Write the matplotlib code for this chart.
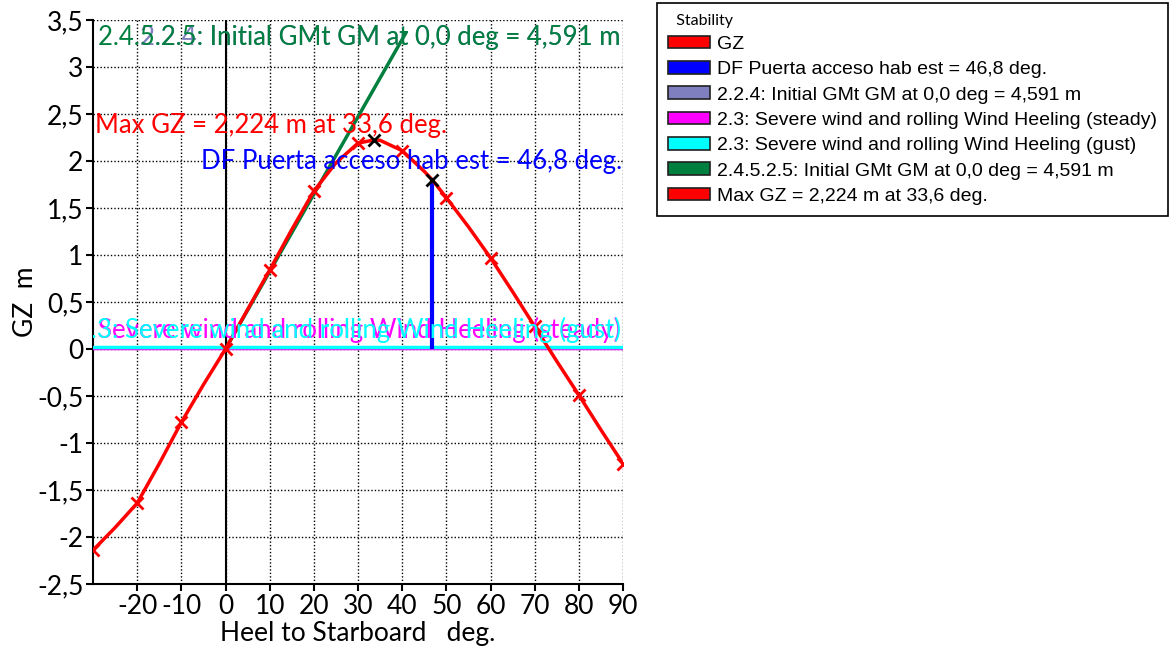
import matplotlib.pyplot as plt
from matplotlib.patches import Patch

# GZ curve (heel deg, GZ m)
heel = [-30, -25, -20, -15, -10, -5, 0, 5, 10, 15, 20, 25, 30, 33.6, 35, 40,
        45, 46.8, 50, 55, 60, 65, 70, 75, 80, 85, 90]
gz = [-2.14, -1.90, -1.64, -1.22, -0.78, -0.38, 0.0, 0.42, 0.84, 1.27, 1.68,
      1.98, 2.19, 2.224, 2.22, 2.11, 1.89, 1.80, 1.61, 1.30, 0.97, 0.61,
      0.24, -0.13, -0.49, -0.86, -1.22]
marker_heel = [-30, -20, -10, 0, 10, 20, 30, 40, 50, 60, 70, 80, 90]
marker_gz = [-2.14, -1.64, -0.78, 0.0, 0.84, 1.68, 2.19, 2.11, 1.61, 0.97, 0.24, -0.49, -1.22]

max_gz_heel, max_gz = 33.6, 2.224
df_heel, df_gz = 46.8, 1.80
gm_line_x = [0, 40.8]
gm_line_y = [0, 3.36]
wind_steady = 0.015
wind_gust = 0.022

xticks = [-20, -10, 0, 10, 20, 30, 40, 50, 60, 70, 80, 90]
yticks = [-2.5, -2, -1.5, -1, -0.5, 0, 0.5, 1, 1.5, 2, 2.5, 3, 3.5]
ytick_labels = ["-2,5", "-2", "-1,5", "-1", "-0,5", "0", "0,5", "1", "1,5", "2", "2,5", "3", "3,5"]

legend_labels = ["GZ", "DF Puerta acceso hab est = 46,8 deg.",
                 "2.2.4: Initial GMt GM at 0,0 deg = 4,591 m",
                 "2.3: Severe wind and rolling Wind Heeling (steady)",
                 "2.3: Severe wind and rolling Wind Heeling (gust)",
                 "2.4.5.2.5: Initial GMt GM at 0,0 deg = 4,591 m",
                 "Max GZ = 2,224 m at 33,6 deg."]
legend_colors = ["#ff0000", "#0000ff", "#7f7fbf", "#ff00ff", "#00ffff", "#007f3f", "#ff0000"]

plt.rcParams['font.family'] = ["Lato", "DejaVu Sans"]

fig = plt.figure(figsize=(11.71, 6.52), dpi=100)
ax = fig.add_axes([93 / 1171, 1 - 584 / 652, 530 / 1171, 564 / 652])

ax.set_xlim(-30, 90)
ax.set_ylim(-2.5, 3.5)
ax.grid(True, color='black', linestyle=(0, (1, 1.5)), linewidth=1)
ax.set_axisbelow(True)
for s in ['top', 'right']:
    ax.spines[s].set_visible(False)
ax.spines['left'].set_linewidth(1.5)
ax.spines['bottom'].set_linewidth(1.5)

ax.axvline(0, color='black', linewidth=1.5, zorder=2)

# wind heeling levers
ax.axhline(wind_steady, color='#ff00ff', linewidth=2.5, zorder=3)
ax.axhline(wind_gust, color='#00ffff', linewidth=2.5, zorder=3)

# initial GM line
ax.plot(gm_line_x, gm_line_y, color='#007f3f', linewidth=2.5, zorder=4)

# downflooding
ax.plot([df_heel, df_heel], [wind_gust, df_gz], color='#0000ff', linewidth=3, zorder=4)

# GZ curve
ax.plot(heel, gz, color='#ff0000', linewidth=2.5, zorder=5)
ax.plot(marker_heel, marker_gz, linestyle='none', marker='x', color='#ff0000',
        markersize=8, markeredgewidth=2, zorder=6)
ax.plot([max_gz_heel, df_heel], [max_gz, df_gz], linestyle='none', marker='x',
        color='black', markersize=8, markeredgewidth=2, zorder=7)

# annotations
tfs = 18.5
ax.text(89.5, 3.31, legend_labels[2], color='#7f7fbf', ha='right', va='center',
        fontsize=tfs, clip_on=True, zorder=8)
ax.text(89.5, 3.31, legend_labels[5], color='#007f3f', ha='right', va='center',
        fontsize=tfs, clip_on=True, zorder=9)
ax.text(-29.6, 2.38, legend_labels[6], color='#ff0000', ha='left', va='center',
        fontsize=tfs, clip_on=True, zorder=9)
ax.text(89.7, 2.0, legend_labels[1], color='#0000ff', ha='right', va='center',
        fontsize=tfs, clip_on=True, zorder=9)
ax.text(89.5, 0.2, legend_labels[3], color='#ff00ff', ha='right', va='center',
        fontsize=tfs, clip_on=True, zorder=8)
ax.text(89.5, 0.2, legend_labels[4], color='#00ffff', ha='right', va='center',
        fontsize=tfs, clip_on=True, zorder=9)

ax.set_xticks(xticks)
ax.set_xticklabels([str(t) for t in xticks])
ax.set_yticks(yticks)
ax.set_yticklabels(ytick_labels)
ax.tick_params(labelsize=19, length=5, width=1.5, color='black', pad=2)

ax.set_xlabel("Heel to Starboard   deg.", fontsize=19, labelpad=2)
ax.set_ylabel("GZ  m", fontsize=19)
ax.yaxis.set_label_coords(-0.104, 0.5)

handles = [Patch(facecolor=c, edgecolor='#202020', linewidth=1.2) for c in legend_colors]
leg = fig.legend(handles, legend_labels, loc='upper left',
                 bbox_to_anchor=(657 / 1171, 1 - 3 / 652), borderaxespad=0,
                 title="  Stability", alignment='left', fancybox=False,
                 edgecolor='black', framealpha=1,
                 prop={'family': ['Liberation Sans', 'DejaVu Sans'], 'size': 14},
                 title_fontproperties={'family': ['Lato', 'DejaVu Sans'], 'size': 11.5},
                 handlelength=2.15, handleheight=0.62, handletextpad=0.4,
                 labelspacing=0.42, borderpad=0.55)
leg.get_frame().set_linewidth(1.2)

fig.savefig("out.png", dpi=100)
